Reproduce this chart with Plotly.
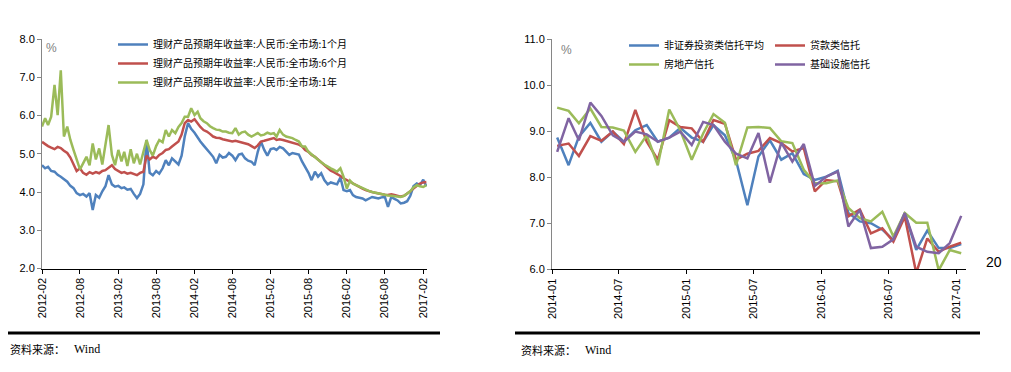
import pandas as pd
import plotly.graph_objects as go

W, H = 1011, 372

# ---------------- Left chart data (semi-monthly, 2012-02 .. 2017-02) ----------------
left_months = pd.date_range("2012-02-01", "2017-02-01", freq="MS")
left_dates = []
for d in left_months:
    left_dates.append(d)
    left_dates.append(d + pd.Timedelta(days=15))

wmp_1m = [4.70, 4.62, 4.66, 4.55, 4.53, 4.45, 4.40, 4.33, 4.27, 4.16,
          4.10, 3.97, 3.92, 3.95, 3.88, 3.97, 3.53, 3.92, 3.85, 4.02,
          4.15, 4.44, 4.20, 4.14, 4.16, 4.10, 4.12, 4.06, 4.08, 3.95,
          3.84, 3.95, 4.20, 5.36, 4.50, 4.44, 4.55, 4.48, 4.62, 4.83,
          4.70, 4.88, 4.80, 4.72, 4.95, 5.45, 5.80, 5.65, 5.55, 5.42,
          5.32, 5.22, 5.10, 5.02, 4.92, 4.75, 4.97, 4.90, 4.92, 5.02,
          4.95, 4.83, 4.98, 5.00, 4.88, 4.82, 4.79, 4.70, 5.05, 5.32,
          5.10, 4.95, 5.12, 5.14, 5.10, 5.18, 5.14, 5.05, 4.97, 5.02,
          5.00, 4.98, 4.80, 4.66, 4.50, 4.31, 4.53, 4.40, 4.49, 4.31,
          4.20, 4.25, 4.22, 4.20, 4.38, 4.05, 4.02, 4.05, 3.92, 3.87,
          3.85, 3.83, 3.78, 3.82, 3.87, 3.85, 3.83, 3.86, 3.87, 3.61,
          3.87, 3.82, 3.78, 3.70, 3.72, 3.76, 3.90, 4.15, 4.22, 4.18,
          4.32, 4.15]

wmp_6m = [5.31, 5.24, 5.20, 5.16, 5.12, 5.18, 5.15, 5.08, 5.02, 4.90,
          4.72, 4.55, 4.62, 4.50, 4.45, 4.52, 4.48, 4.52, 4.49, 4.55,
          4.57, 4.63, 4.70, 4.60, 4.55, 4.50, 4.52, 4.48, 4.50, 4.46,
          4.44, 4.50, 4.53, 4.95, 4.85, 4.92, 4.88, 4.97, 5.02, 5.10,
          5.12, 5.19, 5.25, 5.32, 5.50, 5.80, 5.88, 5.84, 5.90, 5.78,
          5.70, 5.62, 5.58, 5.52, 5.45, 5.42, 5.41, 5.38, 5.36, 5.34,
          5.32, 5.34, 5.32, 5.30, 5.28, 5.25, 5.20, 5.15, 5.22, 5.32,
          5.34, 5.36, 5.38, 5.41, 5.36, 5.38, 5.36, 5.34, 5.32, 5.30,
          5.28, 5.24, 5.19, 5.10, 5.05, 4.97, 4.92, 4.85, 4.80, 4.72,
          4.65, 4.56, 4.52, 4.48, 4.42, 4.36, 4.31, 4.26, 4.22, 4.18,
          4.13, 4.09, 4.05, 4.02, 4.00, 3.98, 3.96, 3.95, 3.93, 3.92,
          3.94, 3.92, 3.90, 3.88, 3.90, 3.95, 4.02, 4.09, 4.16, 4.22,
          4.25, 4.26]

wmp_1y = [5.71, 5.93, 5.75, 5.97, 6.80, 6.01, 7.18, 5.45, 5.71, 5.36,
          5.10, 4.88, 4.59, 4.75, 4.92, 4.70, 5.27, 4.85, 5.14, 4.72,
          5.23, 5.75, 4.97, 4.70, 5.10, 4.80, 5.05, 4.68, 5.12, 4.75,
          5.00, 4.72, 5.05, 5.36, 5.10, 4.95, 5.20, 5.36, 5.30, 5.62,
          5.45, 5.62, 5.54, 5.70, 5.80, 5.97, 5.97, 6.19, 6.01, 6.10,
          5.93, 5.85, 5.80, 5.72, 5.67, 5.63, 5.62, 5.58, 5.58, 5.55,
          5.54, 5.67, 5.50, 5.56, 5.58, 5.50, 5.45, 5.50, 5.54, 5.48,
          5.50, 5.55, 5.52, 5.54, 5.45, 5.62, 5.50, 5.45, 5.43, 5.41,
          5.36, 5.32, 5.19, 5.19, 5.05, 4.98, 4.90, 4.85, 4.78, 4.72,
          4.66, 4.62, 4.58, 4.53, 4.62, 4.40, 4.09, 4.30, 4.22, 4.18,
          4.13, 4.09, 4.05, 4.03, 4.00, 3.98, 3.96, 3.94, 3.92, 3.91,
          3.90, 3.89, 3.88, 3.87, 3.90, 3.95, 4.02, 4.12, 4.18, 4.15,
          4.13, 4.18]

left_names = ["理财产品预期年收益率:人民币:全市场:1个月",
              "理财产品预期年收益率:人民币:全市场:6个月",
              "理财产品预期年收益率:人民币:全市场:1年"]

# ---------------- Right chart data (monthly, 2014-01 .. 2017-01) ----------------
right_dates = pd.date_range("2014-01-01", "2017-01-01", freq="MS") + pd.Timedelta(days=14)

trust_avg = [8.86, 8.26, 8.88, 9.18, 8.77, 8.99, 8.77, 9.02, 9.13, 8.77,
             8.86, 9.07, 8.86, 8.77, 9.13, 8.91, 8.37, 7.39, 8.45, 8.80,
             8.38, 8.52, 8.07, 7.94, 8.01, 8.14, 7.22, 7.04, 7.00, 6.86,
             6.64, 7.22, 6.42, 6.84, 6.46, 6.46, 6.55]
trust_loan = [8.68, 8.73, 8.46, 8.89, 8.79, 8.99, 8.72, 9.46, 8.77, 8.38,
              9.24, 9.09, 9.06, 8.77, 9.24, 9.16, 8.38, 8.51, 8.57, 8.85,
              8.74, 8.56, 8.63, 7.69, 7.94, 7.91, 7.15, 7.30, 6.78, 6.89,
              6.60, 7.14, 5.92, 6.67, 6.38, 6.49, 6.58]
trust_realestate = [9.51, 9.44, 9.17, 9.49, 9.09, 9.08, 9.01, 8.55, 8.91, 8.26,
                    9.47, 9.02, 8.38, 8.95, 9.37, 9.18, 8.26, 9.08, 9.09, 9.07,
                    8.78, 8.74, 8.16, 7.87, 7.87, 7.93, 7.33, 7.11, 7.04, 7.25,
                    6.71, 7.22, 7.01, 7.01, 5.98, 6.42, 6.35]
trust_infra = [8.55, 9.28, 8.80, 9.62, 9.33, 8.91, 8.77, 8.99, 8.93, 8.77,
               8.86, 8.99, 8.70, 9.20, 9.13, 8.77, 8.51, 8.41, 8.96, 7.88,
               8.75, 8.34, 8.72, 7.81, 8.01, 8.12, 6.93, 7.29, 6.46, 6.49,
               6.65, 7.22, 6.49, 6.38, 6.35, 6.57, 7.16]

right_names = ["非证券投资类信托平均", "贷款类信托", "房地产信托", "基础设施信托"]

BLUE, RED, GREEN, PURPLE = "#4F81BD", "#C0504D", "#9BBB59", "#8064A2"

fig = go.Figure()

for vals, name, col in zip([wmp_1m, wmp_6m, wmp_1y], left_names, [BLUE, RED, GREEN]):
    fig.add_trace(go.Scatter(x=left_dates, y=vals, mode="lines", name=name,
                             line=dict(color=col, width=2.5),
                             xaxis="x", yaxis="y", legend="legend"))

right_series = [trust_avg, trust_loan, trust_realestate, trust_infra]
right_cols = [BLUE, RED, GREEN, PURPLE]
right_leg = ["legend2", "legend3", "legend2", "legend3"]
for vals, name, col, lg in zip(right_series, right_names, right_cols, right_leg):
    fig.add_trace(go.Scatter(x=right_dates, y=vals, mode="lines", name=name,
                             line=dict(color=col, width=2.5),
                             xaxis="x2", yaxis="y2", legend=lg))

def px(x):
    return x / W

def py(y):
    return 1 - y / H

tickfont = dict(family="Liberation Sans, Arial", size=11, color="#000000")
legfont = dict(family="Noto Sans CJK SC", size=10, color="#000000")

common_x = dict(type="date", dtick="M6", tickformat="%Y-%m", tickangle=-90,
                ticks="outside", ticklen=4, tickcolor="#000",
                showline=True, linecolor="#000", linewidth=1,
                showgrid=False, zeroline=False, tickfont=tickfont, automargin=False)
common_y = dict(dtick=1, tickformat=".1f", ticks="outside", ticklen=4, tickcolor="#868686",
                showline=True, linecolor="#868686", linewidth=1,
                showgrid=False, zeroline=False, tickfont=tickfont, automargin=False)

fig.update_layout(
    width=W, height=H,
    margin=dict(l=0, r=0, t=0, b=0, autoexpand=False),
    paper_bgcolor="white", plot_bgcolor="white",
    showlegend=True,
    xaxis=dict(domain=[px(42), px(427)], range=["2012-02-01", "2017-02-19"],
               tick0="2012-02-01", anchor="y", **common_x),
    yaxis=dict(domain=[py(268.5), py(39)], range=[2, 8], anchor="x", **common_y),
    xaxis2=dict(domain=[px(552), px(966)], range=["2014-01-01", "2017-01-28"],
                tick0="2014-01-01", anchor="y2", **common_x),
    yaxis2=dict(domain=[py(269.3), py(39)], range=[6, 11], anchor="x2", **common_y),
    legend=dict(x=px(113), y=py(30), xanchor="left", yanchor="top",
                bgcolor="rgba(0,0,0,0)", font=legfont),
    legend2=dict(x=px(624), y=py(31), xanchor="left", yanchor="top",
                 bgcolor="rgba(0,0,0,0)", font=legfont),
    legend3=dict(x=px(770), y=py(31), xanchor="left", yanchor="top",
                 bgcolor="rgba(0,0,0,0)", font=legfont),
)

annots = [
    dict(x=px(51), y=py(48), text="%", font=dict(family="Liberation Sans", size=12, color="#7f7f7f")),
    dict(x=px(566), y=py(50), text="%", font=dict(family="Liberation Sans", size=12, color="#7f7f7f")),
    dict(x=px(994), y=py(262), text="20", font=dict(family="Liberation Sans", size=14, color="#000")),
    dict(x=px(8), y=py(349), text="资料来源：", xanchor="left",
         font=dict(family="Noto Sans CJK SC", size=11, color="#000")),
    dict(x=px(72), y=py(349), text="Wind", xanchor="left",
         font=dict(family="Liberation Serif", size=12, color="#000")),
    dict(x=px(519), y=py(350), text="资料来源：", xanchor="left",
         font=dict(family="Noto Sans CJK SC", size=11, color="#000")),
    dict(x=px(583), y=py(350), text="Wind", xanchor="left",
         font=dict(family="Liberation Serif", size=12, color="#000")),
]
for a in annots:
    a.setdefault("xanchor", "center")
    fig.add_annotation(xref="paper", yref="paper", showarrow=False, yanchor="middle", **a)

fig.add_shape(type="line", xref="paper", yref="paper", x0=px(8), x1=px(440), y0=py(333), y1=py(333),
              line=dict(color="#000", width=3))
fig.add_shape(type="line", xref="paper", yref="paper", x0=px(515), x1=px(980), y0=py(333), y1=py(333),
              line=dict(color="#000", width=3))

fig.write_html("out.html", config={"displayModeBar": False},
               post_script="document.body.style.margin='0px';document.body.style.overflow='hidden';")
